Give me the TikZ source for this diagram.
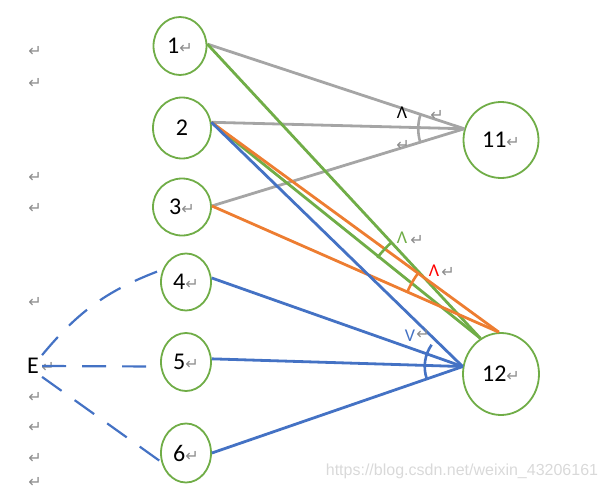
\documentclass[tikz,border=0pt]{standalone}
\usepackage{fontspec}
\setmainfont{Carlito}
\newfontfamily\symfont{DejaVu Sans}
\newfontfamily\wmfont{Liberation Sans}
\usetikzlibrary{shapes.geometric}
\definecolor{officegreen}{HTML}{70AD47}
\definecolor{officeblue}{HTML}{4472C4}
\definecolor{officeorange}{HTML}{ED7D31}
\definecolor{officegray}{HTML}{A5A5A5}
\definecolor{markgray}{HTML}{8C8C8C}
\definecolor{wmgray}{HTML}{D9D9D9}
\newcommand{\pmark}{{\symfont\fontsize{16}{16}\selectfont\textcolor{markgray}{↵}}}

\begin{document}
\begin{tikzpicture}[
    x=1pt, y=1pt,
    vertex/.style={
      ellipse, draw=officegreen, line width=1.8pt,
      fill=white, inner sep=0pt,
      font=\fontsize{24}{24}\selectfont,
    },
    edgeline/.style={line width=2.8pt},
    angarc/.style={line width=2.6pt},
    dashline/.style={draw=officeblue, line width=2.2pt, dash pattern=on 24pt off 16pt},
    anglab/.style={font=\fontsize{18}{18}\selectfont, inner sep=0pt},
    retmark/.style={inner sep=0pt},
    watermark/.style={font=\wmfont\fontsize{16}{16}\selectfont, text=wmgray, inner sep=0pt},
  ]
  \useasboundingbox (0,0) rectangle (603,-490);

  % --- paragraph marks down the left margin ---
  \foreach \y in {51, 83, 177, 208, 302, 397, 427, 458, 482} {
    \node[retmark] at (35,-\y) {\pmark};
  }

  % ================================================================
  %  VERTICES
  % ================================================================
  \node[vertex, minimum width=53, minimum height=58] (n1) at (180,-46) {1\pmark};
  \node[vertex, minimum width=58, minimum height=61] (n2) at (182,-128) {2};
  \node[vertex, minimum width=58, minimum height=57] (n3) at (182,-207) {3\pmark};
  \node[vertex, minimum width=50, minimum height=57] (n4) at (186,-282) {4\pmark};
  \node[vertex, minimum width=50, minimum height=58] (n5) at (186,-362) {5\pmark};
  \node[vertex, minimum width=50, minimum height=59] (n6) at (186,-453) {6\pmark};
  \node[vertex, minimum width=75, minimum height=76] (n11) at (501,-140) {11\pmark};
  \node[vertex, minimum width=76, minimum height=82] (n12) at (501,-374) {12\pmark};

  \node[font=\fontsize{24}{24}\selectfont, inner sep=3pt] (E) at (33,-366) {E};
  \node[retmark] (Emark) at (48,-367) {\pmark};

  % ================================================================
  %  EDGES
  % ================================================================
  % -- to 11 (gray) --
  \foreach \src in {n1.4, n2.11, n3.2} {
    \draw[edgeline, officegray] (\src) -- (n11.163);
  }
  % -- to 12 (green / orange / blue) --
  \foreach \src in {n1.4, n2.11} {
    \draw[edgeline, officegreen] (\src) -- (n12.120);
  }
  \foreach \src in {n2.11, n3.2} {
    \draw[edgeline, officeorange] (\src) -- (n12.93);
  }
  \foreach \src in {n2.11, n4.9, n5.7, n6.0} {
    \draw[edgeline, officeblue] (\src) -- (n12.169);
  }

  % -- dashed links from E --
  \draw[dashline] (E.north east) to[bend left=15] (n4.152);
  \draw[dashline] (E.east) -- (n5.190);
  \draw[dashline] (E.south east) -- (n6.200);

  % ================================================================
  %  ANGLE MARKS
  % ================================================================
  \draw[angarc, officegray] (n11.163) ++(162:46) arc[start angle=162, end angle=197, radius=46];
  \draw[angarc, officegreen] (n12.120) ++(132.5:131) arc[start angle=132.5, end angle=142, radius=131];
  \draw[angarc, officeorange] (n12.93) ++(143.5:100) arc[start angle=143.5, end angle=156.5, radius=100];
  \draw[angarc, officeblue] (n12.169) ++(145:38) arc[start angle=145, end angle=199, radius=38];

  \node[anglab, text=black] at (402,-113) {Λ};
  \node[retmark] at (437,-115) {\pmark};
  \node[retmark] at (403,-145) {\pmark};
  \node[anglab, text=officegreen] at (402,-238) {Λ};
  \node[retmark] at (417,-240) {\pmark};
  \node[anglab, text=red] at (434,-271) {Λ};
  \node[retmark] at (448,-272) {\pmark};
  \node[anglab, text=officeblue] at (410,-336) {V};
  \node[retmark] at (423,-334) {\pmark};

  \node[watermark] at (462,-471) {https://blog.csdn.net/weixin\_43206161};

\end{tikzpicture}
\end{document}
